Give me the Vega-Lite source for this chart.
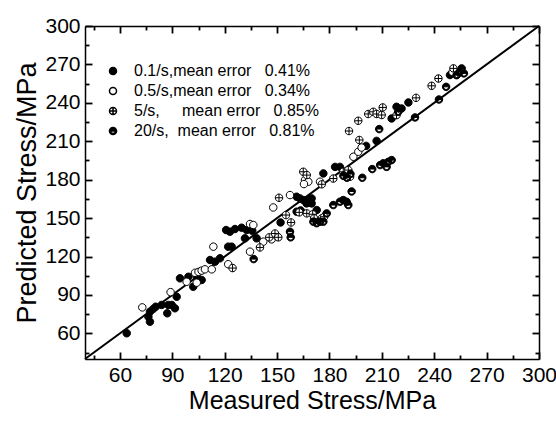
{
  "$schema": "https://vega.github.io/schema/vega-lite/v6.json",
  "width": 454,
  "height": 333,
  "autosize": {"type": "none"},
  "padding": {"left": 85, "top": 26, "right": 17, "bottom": 66},
  "background": "white",
  "config": {"view": {"stroke": null}, "font": "Liberation Sans"},
  "datasets": {
    "diag": [{"x": 40, "y": 40}, {"x": 300, "y": 300}],
    "pts": [
      {"s":"0.1/s","x":63.9,"y":60.1},{"s":"0.1/s","x":76.3,"y":73.0},{"s":"0.1/s","x":77.2,"y":69.1},{"s":"0.1/s","x":77.2,"y":76.9},{"s":"0.1/s","x":79.0,"y":79.0},{"s":"0.1/s","x":80.5,"y":80.8},{"s":"0.1/s","x":83.9,"y":82.2},{"s":"0.1/s","x":87.7,"y":82.2},{"s":"0.1/s","x":89.7,"y":82.2},{"s":"0.1/s","x":87.1,"y":75.7},{"s":"0.1/s","x":91.5,"y":79.6},{"s":"0.1/s","x":92.5,"y":88.6},{"s":"0.1/s","x":94.4,"y":103.0},{"s":"0.1/s","x":99.2,"y":104.2},{"s":"0.1/s","x":102.0,"y":96.4},{"s":"0.1/s","x":104.0,"y":104.2},{"s":"0.1/s","x":106.8,"y":101.7},{"s":"0.1/s","x":111.6,"y":117.3},{"s":"0.1/s","x":114.5,"y":116.0},{"s":"0.1/s","x":117.3,"y":118.6},{"s":"0.1/s","x":122.0,"y":127.7},{"s":"0.1/s","x":124.0,"y":127.7},{"s":"0.1/s","x":120.8,"y":140.7},{"s":"0.1/s","x":123.0,"y":139.4},{"s":"0.1/s","x":125.9,"y":141.5},{"s":"0.1/s","x":129.7,"y":142.5},{"s":"0.1/s","x":132.6,"y":140.7},{"s":"0.1/s","x":135.8,"y":140.1},{"s":"0.1/s","x":131.6,"y":134.2},{"s":"0.1/s","x":138.3,"y":134.2},{"s":"0.1/s","x":152.0,"y":146.6},{"s":"0.1/s","x":161.2,"y":155.0},{"s":"0.1/s","x":163.5,"y":156.0},{"s":"0.1/s","x":161.2,"y":166.7},{"s":"0.1/s","x":163.1,"y":165.4},{"s":"0.1/s","x":165.0,"y":164.1},{"s":"0.1/s","x":167.9,"y":164.1},{"s":"0.1/s","x":169.8,"y":165.4},{"s":"0.1/s","x":166.9,"y":161.5},{"s":"0.1/s","x":169.8,"y":161.5},{"s":"0.1/s","x":172.7,"y":156.3},{"s":"0.1/s","x":176.5,"y":184.9},{"s":"0.1/s","x":183.2,"y":190.0},{"s":"0.1/s","x":186.0,"y":190.0},{"s":"0.1/s","x":201.0,"y":206.4},{"s":"0.1/s","x":207.0,"y":210.3},{"s":"0.1/s","x":215.6,"y":227.8},{"s":"0.1/s","x":218.4,"y":236.9},{"s":"0.1/s","x":221.3,"y":235.6},{"s":"0.1/s","x":225.2,"y":240.3},{"s":"0.1/s","x":249.0,"y":261.7},
      {"s":"0.5/s","x":72.8,"y":80.3},{"s":"0.5/s","x":89.0,"y":92.2},{"s":"0.5/s","x":98.2,"y":100.3},{"s":"0.5/s","x":103.0,"y":107.3},{"s":"0.5/s","x":105.0,"y":108.0},{"s":"0.5/s","x":106.8,"y":109.0},{"s":"0.5/s","x":108.7,"y":110.0},{"s":"0.5/s","x":112.6,"y":110.0},{"s":"0.5/s","x":104.0,"y":99.6},{"s":"0.5/s","x":113.5,"y":127.7},{"s":"0.5/s","x":122.0,"y":114.0},{"s":"0.5/s","x":134.5,"y":123.8},{"s":"0.5/s","x":134.5,"y":145.4},{"s":"0.5/s","x":136.4,"y":144.6},{"s":"0.5/s","x":142.1,"y":131.6},{"s":"0.5/s","x":146.9,"y":133.4},{"s":"0.5/s","x":149.8,"y":136.0},{"s":"0.5/s","x":147.8,"y":158.3},{"s":"0.5/s","x":157.4,"y":168.0},{"s":"0.5/s","x":166.0,"y":179.7},{"s":"0.5/s","x":167.9,"y":178.4},{"s":"0.5/s","x":165.4,"y":176.6},{"s":"0.5/s","x":174.6,"y":178.4},{"s":"0.5/s","x":193.7,"y":197.9},{"s":"0.5/s","x":196.5,"y":201.8},{"s":"0.5/s","x":198.4,"y":205.1},{"s":"0.5/s","x":250.5,"y":264.0},
      {"s":"5/s","x":124.5,"y":111.0},{"s":"5/s","x":140.2,"y":127.1},{"s":"5/s","x":145.5,"y":135.0},{"s":"5/s","x":148.8,"y":138.0},{"s":"5/s","x":150.7,"y":135.0},{"s":"5/s","x":151.1,"y":165.9},{"s":"5/s","x":155.1,"y":152.4},{"s":"5/s","x":158.0,"y":146.6},{"s":"5/s","x":162.7,"y":154.5},{"s":"5/s","x":167.0,"y":153.7},{"s":"5/s","x":170.4,"y":153.0},{"s":"5/s","x":171.2,"y":149.8},{"s":"5/s","x":175.6,"y":149.8},{"s":"5/s","x":177.0,"y":151.1},{"s":"5/s","x":165.0,"y":186.2},{"s":"5/s","x":167.0,"y":183.6},{"s":"5/s","x":175.6,"y":176.4},{"s":"5/s","x":182.2,"y":180.9},{"s":"5/s","x":187.9,"y":186.2},{"s":"5/s","x":190.8,"y":187.5},{"s":"5/s","x":191.8,"y":182.3},{"s":"5/s","x":191.2,"y":218.0},{"s":"5/s","x":196.5,"y":226.0},{"s":"5/s","x":197.1,"y":211.0},{"s":"5/s","x":202.2,"y":231.3},{"s":"5/s","x":205.1,"y":233.0},{"s":"5/s","x":207.0,"y":231.3},{"s":"5/s","x":209.9,"y":230.5},{"s":"5/s","x":210.5,"y":236.4},{"s":"5/s","x":218.4,"y":230.4},{"s":"5/s","x":229.6,"y":243.9},{"s":"5/s","x":238.5,"y":253.3},{"s":"5/s","x":242.4,"y":259.0},{"s":"5/s","x":251.0,"y":266.9},{"s":"5/s","x":253.5,"y":262.5},
      {"s":"20/s","x":136.6,"y":118.0},{"s":"20/s","x":157.4,"y":139.4},{"s":"20/s","x":157.8,"y":135.0},{"s":"20/s","x":170.8,"y":147.2},{"s":"20/s","x":172.7,"y":146.0},{"s":"20/s","x":174.6,"y":147.2},{"s":"20/s","x":176.5,"y":147.2},{"s":"20/s","x":178.4,"y":153.7},{"s":"20/s","x":182.2,"y":160.2},{"s":"20/s","x":186.0,"y":162.8},{"s":"20/s","x":187.9,"y":164.1},{"s":"20/s","x":189.8,"y":162.8},{"s":"20/s","x":190.8,"y":160.2},{"s":"20/s","x":192.7,"y":170.8},{"s":"20/s","x":188.0,"y":183.0},{"s":"20/s","x":190.0,"y":181.5},{"s":"20/s","x":192.0,"y":184.5},{"s":"20/s","x":198.8,"y":181.5},{"s":"20/s","x":204.5,"y":188.3},{"s":"20/s","x":209.0,"y":191.4},{"s":"20/s","x":210.8,"y":192.8},{"s":"20/s","x":212.7,"y":190.0},{"s":"20/s","x":213.7,"y":194.0},{"s":"20/s","x":215.6,"y":195.3},{"s":"20/s","x":208.5,"y":219.5},{"s":"20/s","x":219.4,"y":233.0},{"s":"20/s","x":229.0,"y":228.6},{"s":"20/s","x":242.7,"y":242.6},{"s":"20/s","x":246.8,"y":252.5},{"s":"20/s","x":252.8,"y":261.6},{"s":"20/s","x":254.7,"y":264.2},{"s":"20/s","x":255.7,"y":266.9},{"s":"20/s","x":257.0,"y":263.0}
    ]
  },
  "layer": [
    {
      "data": {"name": "diag"},
      "mark": {"type": "line", "color": "black", "strokeWidth": 2},
      "encoding": {
        "x": {"field": "x", "type": "quantitative", "scale": {"domain": [40, 300], "nice": false, "zero": false},
          "axis": {"orient": "top", "values": [45,60,75,90,105,120,135,150,165,180,195,210,225,240,255,270,285,300], "labels": false, "title": null, "grid": false, "domainColor": "black", "domainWidth": 1.5, "tickColor": "black", "tickWidth": 1.8, "tickSize": -7,
            "tickDash": {"condition": {"test": "datum.value % 30 !== 0", "value": [4, 20]}, "value": [20, 1]}}},
        "y": {"field": "y", "type": "quantitative", "scale": {"domain": [40, 300], "nice": false, "zero": false},
          "axis": {"orient": "right", "values": [45,60,75,90,105,120,135,150,165,180,195,210,225,240,255,270,285,300], "labels": false, "title": null, "grid": false, "domainColor": "black", "domainWidth": 1.5, "tickColor": "black", "tickWidth": 1.8, "tickSize": -7,
            "tickDash": {"condition": {"test": "datum.value % 30 !== 0", "value": [4, 20]}, "value": [20, 1]}}}
      }
    },
    {
      "data": {"name": "pts"},
      "mark": {"type": "point", "filled": true, "stroke": "black", "strokeWidth": 1, "opacity": 1, "size": 56},
      "encoding": {
        "x": {"field": "x", "type": "quantitative", "scale": {"domain": [40, 300], "nice": false, "zero": false},
          "axis": {"orient": "bottom", "values": [45,60,75,90,105,120,135,150,165,180,195,210,225,240,255,270,285,300], "labelExpr": "datum.value % 30 === 0 ? datum.label : ''", "labelFlush": false, "labelOverlap": false, "labelBound": false, "labelFontSize": 21, "labelColor": "black", "labelPadding": 12,
            "title": "Measured Stress/MPa", "titleFontSize": 25, "titleFontWeight": "normal", "titleColor": "black", "titlePadding": 3,
            "grid": false, "domainColor": "black", "domainWidth": 1.5, "tickColor": "black", "tickWidth": 1.8, "tickSize": -7,
            "tickDash": {"condition": {"test": "datum.value % 30 !== 0", "value": [4, 20]}, "value": [20, 1]}}},
        "y": {"field": "y", "type": "quantitative", "scale": {"domain": [40, 300], "nice": false, "zero": false},
          "axis": {"orient": "left", "values": [45,60,75,90,105,120,135,150,165,180,195,210,225,240,255,270,285,300], "labelExpr": "datum.value % 30 === 0 ? datum.label : ''", "labelFlush": false, "labelOverlap": false, "labelBound": false, "labelFontSize": 21, "labelColor": "black", "labelPadding": 12,
            "title": "Predicted Stress/MPa", "titleFontSize": 27, "titleFontWeight": "normal", "titleColor": "black", "titlePadding": 3,
            "grid": false, "domainColor": "black", "domainWidth": 1.5, "tickColor": "black", "tickWidth": 1.8, "tickSize": -7,
            "tickDash": {"condition": {"test": "datum.value % 30 !== 0", "value": [4, 20]}, "value": [20, 1]}}},
        "shape": {"field": "s", "type": "nominal",
          "scale": {"domain": ["0.1/s", "0.5/s", "5/s", "20/s"], "range": [
            "M-1,0A1,1 0 1,1 1,0A1,1 0 1,1 -1,0Z",
            "M-1,0A1,1 0 1,1 1,0A1,1 0 1,1 -1,0Z",
            "M-1,0A1,1 0 1,1 1,0A1,1 0 1,1 -1,0Z M-1,0L1,0 M0,-1L0,1",
            "M-1,0A1,1 0 0,1 1,0Z M-1,0A1,1 0 0,0 1,0L0.7,0A0.7,0.7 0 0,1 -0.7,0Z"]},
          "legend": {"orient": "none", "legendX": 20, "legendY": 37, "title": null, "padding": 0, "labelFontSize": 16, "labelColor": "black", "labelLimit": 0, "symbolSize": 49, "rowPadding": 4, "labelOffset": 13,
            "encode": {"symbols": {"update": {"stroke": {"value": "black"}, "strokeWidth": {"value": 1}}}},
            "labelExpr": "datum.label === '0.1/s' ? '0.1/s,mean error\u00a0\u00a0\u00a00.41%' : datum.label === '0.5/s' ? '0.5/s,mean error\u00a0\u00a0\u00a00.34%' : datum.label === '5/s' ? '5/s,\u00a0\u00a0\u00a0\u00a0\u00a0mean error\u00a0\u00a0\u00a00.85%' : '20/s,\u00a0\u00a0mean error\u00a0\u00a0\u00a00.81%'"}},
        "fill": {"field": "s", "type": "nominal",
          "scale": {"domain": ["0.1/s", "0.5/s", "5/s", "20/s"], "range": ["black", "white", "white", "black"]},
          "legend": {"orient": "none", "legendX": 20, "legendY": 37, "title": null, "padding": 0, "labelFontSize": 16, "labelColor": "black", "labelLimit": 0, "symbolSize": 49, "rowPadding": 4, "labelOffset": 13,
            "encode": {"symbols": {"update": {"stroke": {"value": "black"}, "strokeWidth": {"value": 1}}}},
            "labelExpr": "datum.label === '0.1/s' ? '0.1/s,mean error\u00a0\u00a0\u00a00.41%' : datum.label === '0.5/s' ? '0.5/s,mean error\u00a0\u00a0\u00a00.34%' : datum.label === '5/s' ? '5/s,\u00a0\u00a0\u00a0\u00a0\u00a0mean error\u00a0\u00a0\u00a00.85%' : '20/s,\u00a0\u00a0mean error\u00a0\u00a0\u00a00.81%'"}}
      }
    }
  ],
  "resolve": {"axis": {"x": "independent", "y": "independent"}}
}
